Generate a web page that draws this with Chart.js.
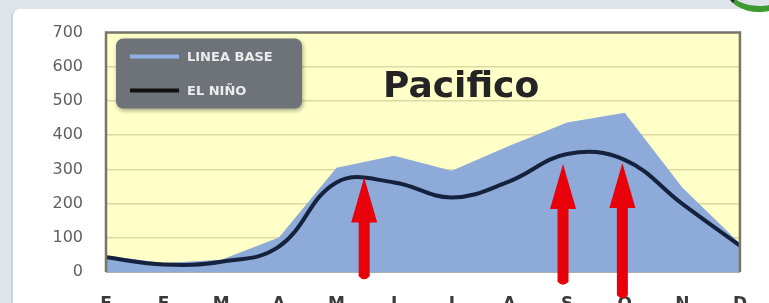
<!DOCTYPE html>
<html>
<head>
<meta charset="utf-8">
<script src="https://cdn.jsdelivr.net/npm/chart.js@4.4.1/dist/chart.umd.min.js"></script>
<style>
  html, body { margin: 0; padding: 0; width: 769px; height: 303px; overflow: hidden; background: #dfe4eb; }
  #panel { position: absolute; left: 11px; top: 9px; width: 760px; height: 300px; background: #ffffff; border-top-left-radius: 8px; border-left: 2px solid #c9d2de; }
  #swirl { position: absolute; right: -22px; top: -30px; width: 60px; height: 36px; border-radius: 50%; border-bottom: 6px solid #3c9a2e; border-left: 4px solid #1e2a1e; }
  #wrap { position: absolute; left: 0; top: 0; width: 769px; height: 320px; }
</style>
</head>
<body>
<div id="panel"></div>
<div id="swirl"></div>
<div id="wrap"><canvas id="c" width="769" height="320"></canvas></div>
<script>
const months = ['E', 'F', 'M', 'A', 'M', 'J', 'J', 'A', 'S', 'O', 'N', 'D'];
const lineaBase = [48, 26, 36, 101, 305, 340, 296, 369, 437, 466, 247, 83];
const elNino = [43, 22, 30, 74, 262, 262, 218, 265, 345, 328, 199, 77];
const yTicks = [0, 100, 200, 300, 400, 500, 600, 700];
const titleText = 'Pacifico';
// annotation arrows: category position, tip value, tail value
const arrowAt = [4.48, 7.93, 8.96];
const arrowTip = [276, 316, 319];
const arrowTail = [-24, -40, -80];

const bgPlugin = {
  id: 'plotBg',
  beforeDraw(chart) {
    const { ctx, chartArea: a } = chart;
    ctx.save();
    ctx.fillStyle = '#ffffc8';
    ctx.fillRect(a.left, a.top, a.right - a.left, a.bottom - a.top);
    ctx.restore();
  },
  afterDatasetsDraw(chart) {
    const { ctx, chartArea: a } = chart;
    const xs = chart.scales.x, ys = chart.scales.y;
    ctx.save();
    // frame (top, right, left)
    ctx.strokeStyle = '#76766a';
    ctx.lineWidth = 2.5;
    ctx.beginPath();
    ctx.moveTo(a.left, a.bottom);
    ctx.lineTo(a.left, a.top);
    ctx.lineTo(a.right, a.top);
    ctx.lineTo(a.right, a.bottom);
    ctx.stroke();
    // arrows
    ctx.fillStyle = '#e8000b';
    for (let i = 0; i < arrowAt.length; i++) {
      const x = xs.getPixelForValue(arrowAt[i]);
      const yt = ys.getPixelForValue(arrowTip[i]);
      const yb = ys.getPixelForValue(arrowTail[i]);
      const hh = 45, hw = 13, sw = 5.5;
      ctx.beginPath();
      ctx.moveTo(x, yt);
      ctx.lineTo(x + hw, yt + hh);
      ctx.lineTo(x + sw, yt + hh);
      ctx.lineTo(x + sw, yb - 4);
      ctx.quadraticCurveTo(x, yb + 2, x - sw, yb - 4);
      ctx.lineTo(x - sw, yt + hh);
      ctx.lineTo(x - hw, yt + hh);
      ctx.closePath();
      ctx.fill();
    }
    // title
    ctx.fillStyle = '#242424';
    ctx.font = 'bold 36px "DejaVu Sans"';
    ctx.textBaseline = 'alphabetic';
    ctx.textAlign = 'left';
    ctx.fillText(titleText, a.left + 277, a.top + 64);
    // legend box
    const lx = a.left + 10, ly = a.top + 6, lw = 186, lh = 70;
    ctx.shadowColor = 'rgba(0,0,0,0.35)';
    ctx.shadowBlur = 4;
    ctx.shadowOffsetX = 1;
    ctx.shadowOffsetY = 2;
    ctx.fillStyle = '#6e737a';
    ctx.beginPath();
    ctx.roundRect(lx, ly, lw, lh, 7);
    ctx.fill();
    ctx.shadowColor = 'transparent';
    const ds = chart.data.datasets;
    const items = [ds[1], ds[0]];
    const cols = ['#8fb2e3', '#111111'];
    items.forEach((d, k) => {
      const yy = ly + 18 + k * 34;
      ctx.strokeStyle = cols[k];
      ctx.lineWidth = 4;
      ctx.beginPath();
      ctx.moveTo(lx + 14, yy);
      ctx.lineTo(lx + 63, yy);
      ctx.stroke();
      ctx.fillStyle = '#ececec';
      ctx.font = 'bold 13px "DejaVu Sans"';
      ctx.textBaseline = 'middle';
      ctx.fillText(d.label, lx + 71, yy + 1);
    });
    ctx.restore();
  }
};

new Chart(document.getElementById('c'), {
  type: 'line',
  data: {
    labels: months,
    datasets: [
      {
        label: 'EL NIÑO',
        data: elNino,
        borderColor: '#15223d',
        borderWidth: 4,
        tension: 0.4,
        pointRadius: 0,
        fill: false,
        order: 1
      },
      {
        label: 'LINEA BASE',
        data: lineaBase,
        borderWidth: 0,
        borderColor: 'rgba(0,0,0,0)',
        backgroundColor: '#8eaad9',
        tension: 0,
        pointRadius: 0,
        fill: 'origin',
        order: 2
      }
    ]
  },
  options: {
    responsive: false,
    animation: false,
    events: [],
    layout: { padding: { left: 0, top: 31, right: 29, bottom: 0 } },
    plugins: { legend: { display: false }, tooltip: { enabled: false }, title: { display: false } },
    scales: {
      x: {
        offset: false,
        grid: { display: false, drawTicks: false },
        border: { display: true, color: '#a9adb5', width: 1 },
        ticks: { color: '#3a3a3a', font: { family: 'DejaVu Sans', size: 17, weight: 'bold' }, padding: 22, maxRotation: 0, autoSkip: false },
        afterFit(s) { s.height = 48; }
      },
      y: {
        min: 0,
        max: 700,
        afterBuildTicks(s) { s.ticks = yTicks.map(v => ({ value: v })); },
        grid: { color: '#ddd7a2', lineWidth: 1.6, drawTicks: false },
        border: { display: false },
        ticks: { color: '#606060', font: { family: 'DejaVu Sans', size: 16 }, padding: 23 },
        afterFit(s) { s.width = 106; }
      }
    }
  },
  plugins: [bgPlugin]
});
</script>
</body>
</html>
